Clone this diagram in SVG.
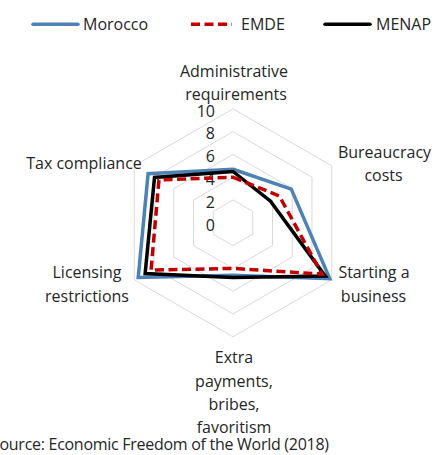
<svg xmlns="http://www.w3.org/2000/svg" width="441" height="455" viewBox="0 0 441 455">
<style>
text{font-family:"Open Sans","Noto Sans","Liberation Sans",sans-serif;font-size:16px;fill:#262626}
.c{text-anchor:middle}
.e{text-anchor:end}
.grid{fill:none;stroke:#d9d9d9;stroke-width:1}
.s{fill:none;stroke-width:3.5;stroke-linejoin:miter}
.mor{stroke:#4e81b4}
.emde{stroke:#c00000;stroke-dasharray:9 4.5}
.men{stroke:#000000}
</style>
<rect width="441" height="455" fill="#ffffff"/>
<g id="legend">
<line x1="33" y1="24.3" x2="78" y2="24.3" class="s mor" stroke-linecap="round" stroke-width="4"/>
<text x="83" y="30">Morocco</text>
<line x1="191" y1="24.3" x2="232" y2="24.3" class="s emde" stroke-width="4"/>
<text x="241" y="30">EMDE</text>
<line x1="325" y1="24.3" x2="370" y2="24.3" class="s men" stroke-linecap="round" stroke-width="4"/>
<text x="376" y="30">MENAP</text>
</g>
<g id="grid">
<polygon class="grid" points="233,200 252.745,211.4 252.745,234.2 233,245.6 213.255,234.2 213.255,211.4"/>
<polygon class="grid" points="233,177.2 272.49,200 272.49,245.6 233,268.4 193.51,245.6 193.51,200"/>
<polygon class="grid" points="233,154.4 292.235,188.6 292.235,257 233,291.2 173.765,257 173.765,188.6"/>
<polygon class="grid" points="233,131.6 311.98,177.2 311.98,268.4 233,314 154.02,268.4 154.02,177.2"/>
<polygon class="grid" points="233,108.8 331.725,165.8 331.725,279.8 233,336.8 134.275,279.8 134.275,165.8"/>
</g>
<g id="axis-values">
<text class="e" x="215" y="230.5">0</text>
<text class="e" x="215" y="207.7">2</text>
<text class="e" x="215" y="184.9">4</text>
<text class="e" x="215" y="162.1">6</text>
<text class="e" x="215" y="139.3">8</text>
<text class="e" x="215" y="116.5">10</text>
</g>
<g id="series">
<polygon id="morocco" class="s mor" points="233,169.22 291.25,189.17 329.75,278.66 233,275.24 138.22,277.52 148.1,173.78"/>
<polygon id="menap" class="s men" points="233,171.5 270.52,201.14 325.31,276.1 233,277.52 145.13,273.53 154.51,177.48"/>
<polygon id="emde" class="s emde" points="233,177.2 279.4,196.01 321.85,274.1 233,268.4 151.06,270.11 158.95,180.05"/>
</g>
<g id="cat-admin"><text class="c" x="234" y="76.5">Administrative</text><text class="c" x="236" y="99.5">requirements</text></g>
<g id="cat-bureau"><text class="c" x="384.5" y="157.5">Bureaucracy</text><text class="c" x="383.5" y="180.5">costs</text></g>
<g id="cat-start"><text class="c" x="374" y="278.3">Starting a</text><text class="c" x="373.5" y="301.5">business</text></g>
<g id="cat-extra"><text class="c" x="234" y="363">Extra</text><text class="c" x="234" y="386.5">payments,</text><text class="c" x="234" y="410">bribes,</text><text class="c" x="234" y="433">favoritism</text></g>
<g id="cat-lic"><text class="c" x="87" y="278.3">Licensing</text><text class="c" x="87" y="301.5">restrictions</text></g>
<g id="cat-tax"><text class="c" x="84" y="169">Tax compliance</text></g>
<g id="source"><text x="-9" y="450" textLength="338">Source: Economic Freedom of the World (2018)</text></g>
</svg>
